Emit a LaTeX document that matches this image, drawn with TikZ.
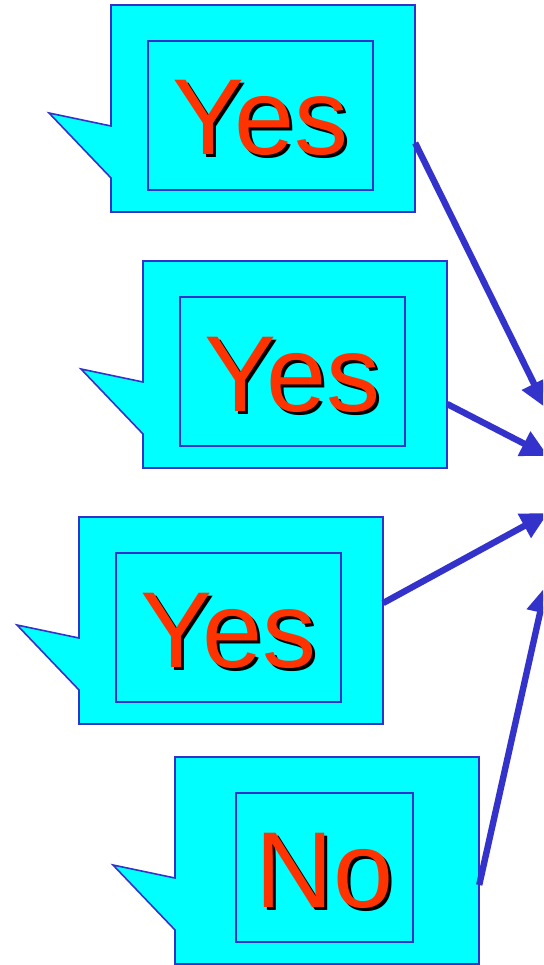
\documentclass[tikz,border=0pt]{standalone}
\usepackage{fontspec}
\setmainfont{Liberation Sans}
\usetikzlibrary{arrows.meta}
\definecolor{boxfill}{RGB}{0,255,255}
\definecolor{edge}{RGB}{51,51,204}
\definecolor{wordred}{RGB}{255,51,0}
\tikzset{
  calloutline/.style={draw=edge, line width=1.6pt, fill=boxfill, line join=miter},
  outerbox/.style={rectangle, draw=none, minimum width=304pt, minimum height=207pt, inner sep=0pt},
  innerbox/.style={rectangle, draw=edge, line width=1.4pt, minimum height=149pt, inner sep=0pt},
  word/.style={anchor=base, inner sep=0pt, text=wordred, font=\fontsize{108}{108}\selectfont},
  link/.style={draw=edge, line width=6.4pt, -{Triangle[length=27pt, width=26pt]}}
}
% red word with its black drop shadow, set as one piece of text
\newcommand\shadowed[1]{%
  \makebox[0pt][l]{\kern3pt\raisebox{-3pt}{\textcolor{black}{#1}}}#1}
% one speech callout: name, x shift, y shift, inner width, word
\newcommand\speechbox[5]{%
  \begin{scope}[shift={(#2,#3)}]
    \draw[calloutline] (111,5) -- (415,5) -- (415,212) -- (111,212) -- (111,178)
      -- (49,113) -- (111,126) -- cycle;
    \node[outerbox] (#1) at (263,108.5) {};
    \node[innerbox, minimum width=#4] (#1-in) at (260.5,115.5) {};
    \node[word] (#1-word) at (260.5,155) {\shadowed{#5}};
  \end{scope}}
\begin{document}
\begin{tikzpicture}[x=1pt, y=-1pt]
  \clip (0,0) rectangle (543,965);
  \fill[white] (0,0) rectangle (543,965);

  \speechbox{c1}{0}{0}{225pt}{Yes}
  \speechbox{c2}{32}{256}{225pt}{Yes}
  \speechbox{c3}{-32}{512}{225pt}{Yes}
  \speechbox{c4}{64}{752}{177pt}{No}

  % arrow start points on the callouts and their targets at the right
  \coordinate (s1) at (c1.east |- 0,143);
  \coordinate (s2) at (c2.east |- 0,404);
  \coordinate (s3) at (c3.east |- 0,603);
  \coordinate (s4) at (c4.east |- 0,885);
  \coordinate (e1) at (546,408);
  \coordinate (e2) at (548,456);
  \coordinate (e3) at (548,513);
  \coordinate (e4) at (546,586);

  \draw[link] (s1) -- (e1);
  \draw[link] (s2) -- (e2);
  \draw[link] (s3) -- (e3);
  \draw[link] (s4) -- (e4);
\end{tikzpicture}
\end{document}
